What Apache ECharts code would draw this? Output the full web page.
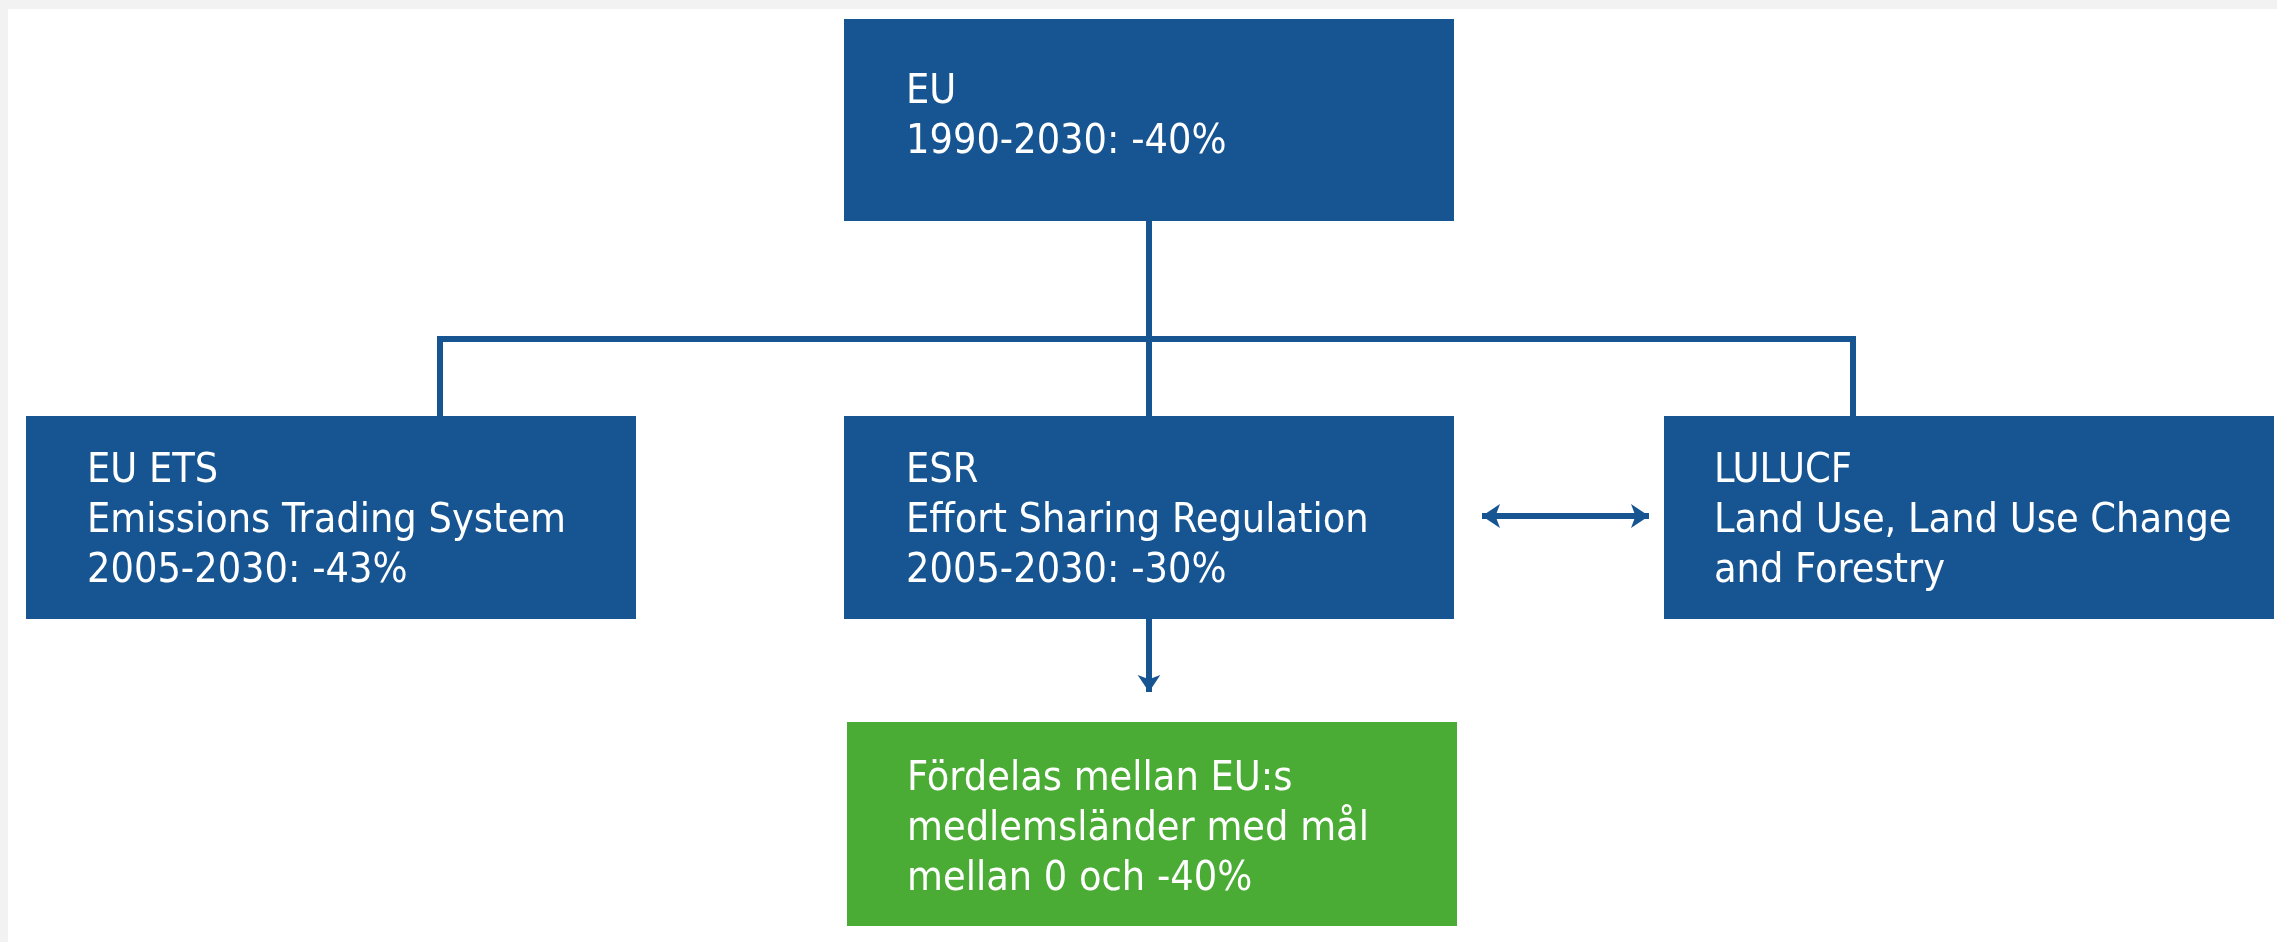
<!DOCTYPE html>
<html>
<head>
<meta charset="utf-8">
<script src="https://cdn.jsdelivr.net/npm/echarts@6/dist/echarts.min.js"></script>
<style>
  html, body { margin: 0; padding: 0; background: #f2f2f2; overflow: hidden; }
  #chart { position: absolute; left: 8px; top: 9px; width: 2269px; height: 933px; background: #fff; }
</style>
</head>
<body>
<div id="chart"></div>
<script>
// box texts, one array of lines per box
const boxLines = [
  ['EU', '1990-2030: -40%'],
  ['EU ETS', 'Emissions Trading System', '2005-2030: -43%'],
  ['ESR', 'Effort Sharing Regulation', '2005-2030: -30%'],
  ['LULUCF', 'Land Use, Land Use Change', 'and Forestry'],
  ['Fördelas mellan EU:s', 'medlemsländer med mål', 'mellan 0 och -40%']
];
const boxKind = ['eu', 'eu', 'eu', 'eu', 'member'];

// layout (units = pixels of the picture)
const boxLeft = [844, 26, 844, 1664, 847];
const boxTop = [19, 416, 416, 416, 722];
const boxWidth = 610;
const boxHeight = [202, 203, 203, 203, 204];
const textPad = [62, 61, 62, 50, 60];
const textDy = [-3, 4, 4, 4, 5];

const BLUE = '#165492';
const GREEN = '#4aac34';
const kindColor = { eu: BLUE, member: GREEN };

// connectors
const treeLines = [
  [[1149, 221], [1149, 416]],
  [[437, 339], [1856, 339]],
  [[440, 339], [440, 416]],
  [[1853, 339], [1853, 416]]
];
const downArrow = [[1149, 619], [1149, 692]];
const twoWayArrow = [[1482, 516], [1649, 516]];

const chart = echarts.init(document.getElementById('chart'));

const boxData = boxLines.map(function (l, i) {
  return [boxLeft[i], boxTop[i], boxLeft[i] + boxWidth, boxTop[i] + boxHeight[i], i];
});

chart.setOption({
  animation: false,
  grid: { left: 0, right: 0, top: 0, bottom: 0 },
  xAxis: {
    type: 'value', min: 8, max: 2277,
    show: false, splitLine: { show: false }
  },
  yAxis: {
    type: 'value', min: 9, max: 942, inverse: true,
    show: false, splitLine: { show: false }
  },
  series: [
    {
      type: 'lines',
      coordinateSystem: 'cartesian2d',
      symbol: ['none', 'none'],
      lineStyle: { color: BLUE, width: 6, opacity: 1 },
      data: treeLines.map(function (c) { return { coords: c }; }),
      z: 1
    },
    {
      type: 'lines',
      coordinateSystem: 'cartesian2d',
      symbol: ['none', 'arrow'],
      symbolSize: [17, 17],
      lineStyle: { color: BLUE, width: 6, opacity: 1 },
      data: [{ coords: downArrow }],
      z: 1
    },
    {
      type: 'lines',
      coordinateSystem: 'cartesian2d',
      symbol: ['arrow', 'arrow'],
      symbolSize: [18, 18],
      lineStyle: { color: BLUE, width: 6, opacity: 1 },
      data: [{ coords: twoWayArrow }],
      z: 1
    },
    {
      type: 'custom',
      coordinateSystem: 'cartesian2d',
      z: 2,
      data: boxData,
      renderItem: function (params, api) {
        const i = api.value(4);
        const p0 = api.coord([api.value(0), api.value(1)]);
        const p1 = api.coord([api.value(2), api.value(3)]);
        return {
          type: 'group',
          children: [
            {
              type: 'rect',
              shape: { x: p0[0], y: p0[1], width: p1[0] - p0[0], height: p1[1] - p0[1] },
              style: { fill: kindColor[boxKind[i]] }
            },
            {
              type: 'text',
              x: p0[0] + textPad[i],
              y: (p0[1] + p1[1]) / 2 + textDy[i],
              style: {
                text: boxLines[i].join('\n'),
                fill: '#ffffff',
                fontFamily: '"Liberation Sans Narrow", "DejaVu Sans Condensed", "Roboto", sans-serif',
                fontSize: 41,
                lineHeight: 50,
                align: 'left',
                verticalAlign: 'middle'
              }
            }
          ]
        };
      }
    }
  ]
});
</script>
</body>
</html>
